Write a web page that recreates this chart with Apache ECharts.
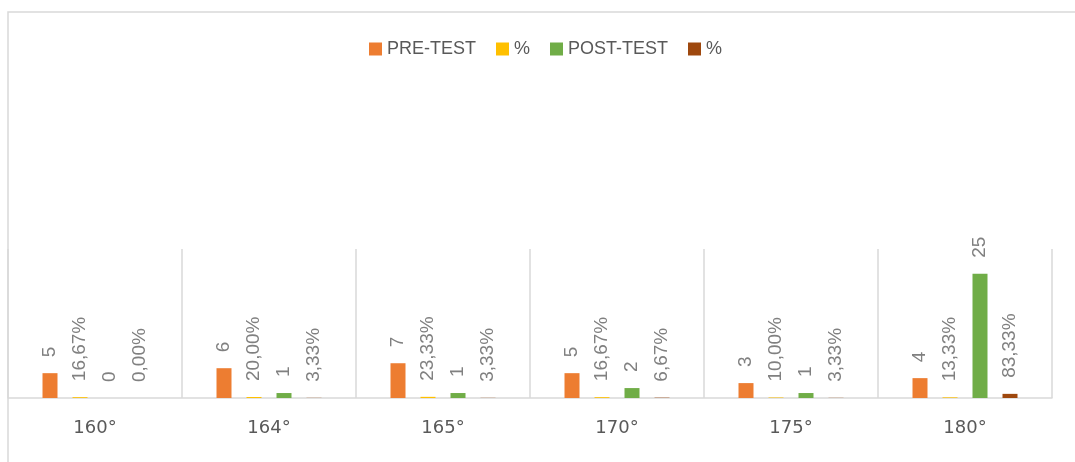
<!DOCTYPE html>
<html lang="en">
<head>
    <meta charset="UTF-8">
    <title>PRE-TEST / POST-TEST</title>
    <script src="https://cdn.jsdelivr.net/npm/echarts@6/dist/echarts.min.js"></script>
    <style>
        html, body { margin: 0; padding: 0; background: #fff; }
        .box { width: 1075px; height: 462px; }
    </style>
</head>
<body>
    <div class="box"></div>
</body>
<script>
 // data
 let categories = ['160°', '164°', '165°', '170°', '175°', '180°']
 let preTest = [5, 6, 7, 5, 3, 4]
 let prePct = [0.1667, 0.2000, 0.2333, 0.1667, 0.1000, 0.1333]
 let postTest = [0, 1, 1, 2, 1, 25]
 let postPct = [0.0000, 0.0333, 0.0333, 0.0667, 0.0333, 0.8333]
 let legendNames = ['PRE-TEST', '%', 'POST-TEST', '%']
 let colors = ['#ed7d31', '#ffc000', '#70ad47', '#9e480e']

 let fontName = '"Liberation Sans", Arial, sans-serif'
 // two series share the label '%', so give them unique ids and map back in the legend
 let ids = ['PRE-TEST', '%pre', 'POST-TEST', '%post']

 let pctText = p => (p.value * 100).toFixed(2).replace('.', ',') + '%'

 function makeSeries(i, data, isPct) {
    return {
        name: ids[i],
        type: 'bar',
        data: data,
        barWidth: 15,
        barGap: '100%',
        itemStyle: { color: colors[i] },
        label: {
            show: true,
            position: 'top',
            rotate: 90,
            align: 'left',
            verticalAlign: 'middle',
            distance: 16,
            color: '#808080',
            fontSize: 19,
            fontFamily: fontName,
            formatter: isPct ? pctText : '{c}'
        }
    }
 }

 let Echarts = echarts.init(document.querySelector('.box'));
 let option = {
    animation: false,
    graphic: [{ // outer chart frame (cut off on the right and bottom)
        type: 'rect',
        silent: true,
        shape: { x: 8, y: 12, width: 1200, height: 600 },
        style: { fill: 'none', stroke: '#d9d9d9', lineWidth: 1.5 }
    }],
    grid: { left: 8, right: 23, top: 249, bottom: 64 },
    legend: {
        data: ids,
        left: 364,
        top: 35,
        itemWidth: 13,
        itemHeight: 13,
        itemGap: 20,
        icon: 'rect',
        formatter: name => legendNames[ids.indexOf(name)],
        textStyle: { color: '#595959', fontSize: 18, fontFamily: fontName }
    },
    xAxis: {
        type: 'category',
        data: categories,
        axisTick: { show: false },
        axisLine: { lineStyle: { color: '#d9d9d9', width: 1.5 } },
        splitLine: { show: true, lineStyle: { color: '#d9d9d9', width: 1.5 } },
        axisLabel: {
            color: '#595959',
            fontSize: 18,
            fontFamily: '"DejaVu Sans", sans-serif',
            margin: 21
        }
    },
    yAxis: {
        type: 'value',
        min: 0,
        max: 30,
        show: false,
        splitLine: { show: false }
    },
    series: [
        makeSeries(0, preTest, false),
        makeSeries(1, prePct, true),
        makeSeries(2, postTest, false),
        makeSeries(3, postPct, true)
    ]
 }
 Echarts.setOption(option)
</script>
</html>
